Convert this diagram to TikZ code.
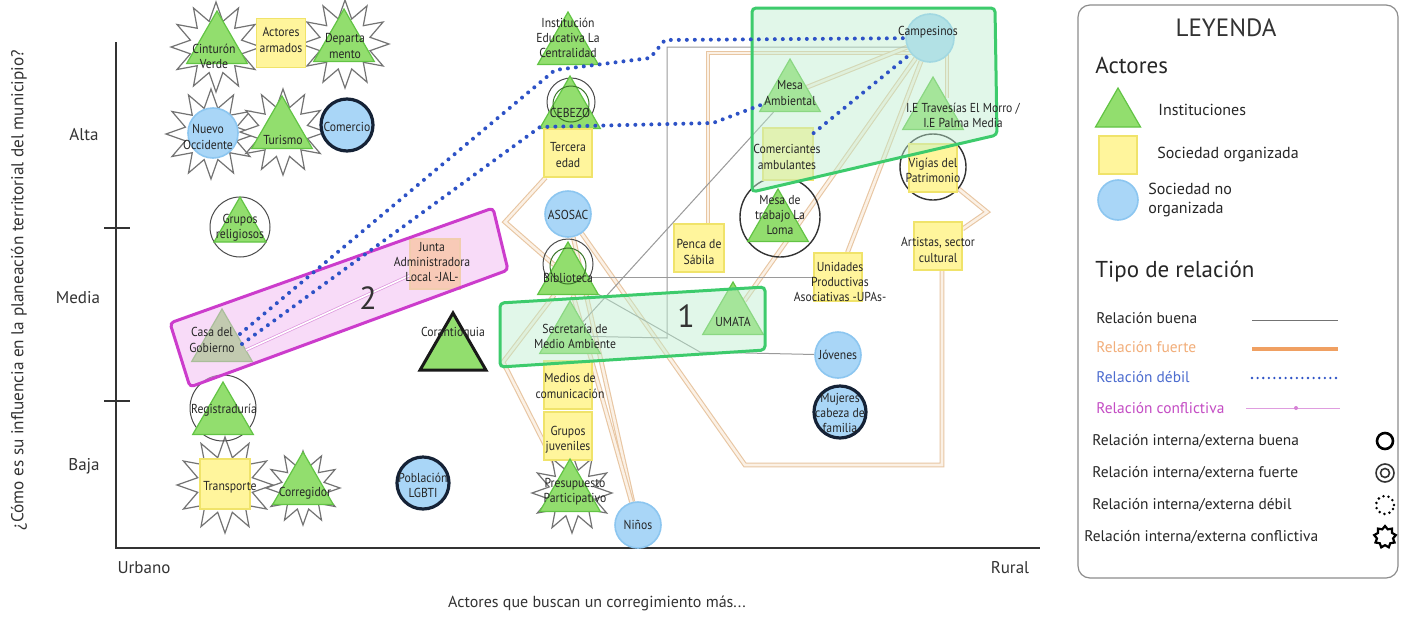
\documentclass[tikz,border=0pt]{standalone}
\usepackage{fontspec}
\setmainfont{PT Sans}
\newfontfamily\tagfont{PT Sans}[FakeStretch=0.9]
\usetikzlibrary{shapes.geometric,calc}

\definecolor{triF}{HTML}{92DE6E}
\definecolor{triD}{HTML}{62C444}
\definecolor{sqF}{HTML}{FFF59C}
\definecolor{sqD}{HTML}{F0E36A}
\definecolor{ciF}{HTML}{A9D6F7}
\definecolor{ciD}{HTML}{8CC6F0}
\definecolor{ringD}{HTML}{152236}
\definecolor{tanO}{HTML}{E8C6A2}
\definecolor{creamO}{HTML}{FBF1E6}
\definecolor{goodG}{HTML}{9A9A9A}
\definecolor{weakB}{HTML}{2D52C6}
\definecolor{confP}{HTML}{C44CC4}
\definecolor{boxG}{HTML}{3DCB6C}
\definecolor{boxGF}{HTML}{BDEFD0}
\definecolor{boxP}{HTML}{CC3CCC}
\definecolor{boxPF}{HTML}{F2B8F2}
\definecolor{strongO}{HTML}{F0A062}

\pgfdeclarelayer{bg}
\pgfdeclarelayer{stars}
\pgfdeclarelayer{edges}
\pgfdeclarelayer{over}
\pgfdeclarelayer{top}
\pgfsetlayers{bg,edges,stars,main,over,top}

\tikzset{
  inst/.style={regular polygon, regular polygon sides=3, minimum size=35pt, inner sep=0pt,
               fill=triF, draw=triD, line width=0.6pt},
  org/.style={rectangle, minimum size=24pt, inner sep=0pt, fill=sqF, draw=sqD, line width=0.6pt},
  noorg/.style={circle, minimum size=23pt, inner sep=0pt, fill=ciF, draw=ciD, line width=0.8pt},
  darkring/.style={draw=ringD, line width=1.6pt},
  spiky/.style={star, star points=12, star point ratio=1.7, minimum size=44pt, inner sep=0pt,
                draw=black!55, fill=white, line width=0.6pt},
  ring/.style={circle, inner sep=0pt, draw=black!70, line width=0.5pt},
  innerring/.style={circle, inner sep=0pt, draw=triD!60!black, line width=0.5pt},
  lbl/.style={align=center, inner sep=0pt, font=\tagfont\fontsize{6.5}{7.6}\selectfont, text=black!85},
  good/.style={draw=goodG, line width=0.5pt},
  strong/.style={draw=tanO, double=creamO, double distance=1.3pt, line width=0.55pt},
  weak/.style={draw=weakB, line width=2pt, line cap=round, dash pattern=on 0pt off 4pt},
  conflict/.style={draw=confP!60, double=white, double distance=0.8pt, line width=0.35pt},
  pinkbox/.style={draw=boxP, line width=1.5pt, fill=boxPF, fill opacity=0.5, rounded corners=2pt},
  greenbox/.style={draw=boxG, line width=1.5pt, fill=boxGF, fill opacity=0.45, rounded corners=2pt},
  axisline/.style={draw=black!80, line width=1.1pt},
  axislbl/.style={inner sep=0pt, font=\fontsize{8.5}{10}\selectfont, text=black!80},
  lgtext/.style={anchor=west, inner sep=0pt, font=\fontsize{8}{9.5}\selectfont, text=black!85},
  reltext/.style={anchor=west, inner sep=0pt, font=\fontsize{7.7}{9}\selectfont, text=black!85},
  lghead/.style={anchor=west, inner sep=0pt, font=\fontsize{11.5}{13}\selectfont, text=black!85},
  bignum/.style={inner sep=0pt, font=\fontsize{16}{18}\selectfont, text=black!80},
}

\begin{document}
\begin{tikzpicture}[x=0.5pt,y=-0.5pt]
\useasboundingbox (0,0) rectangle (1402,616);
\begin{pgfonlayer}{bg}
\fill[white] (0,0) rectangle (1402,616);
\end{pgfonlayer}

% ---------- axes ----------
\coordinate (ytop) at (116,42);
\coordinate (orig) at (116,548);
\coordinate (xend) at (1040,548);
\draw[axisline] (ytop) -- (orig) -- (xend);
\coordinate (tAa) at (104,228); \coordinate (tAb) at (130,228);
\coordinate (tBa) at (104,401); \coordinate (tBb) at (130,401);
\draw[axisline, line width=0.8pt] (tAa) -- (tAb);
\draw[axisline, line width=0.8pt] (tBa) -- (tBb);
\node[axislbl] (alta) at (84,135) {Alta};
\node[axislbl] (media) at (78,298) {Media};
\node[axislbl] (baja) at (84,466) {Baja};
\node[axislbl] (urb) at (144,568) {Urbano};
\node[axislbl] (rur) at (1010,568) {Rural};
\node[axislbl, font=\fontsize{8}{10}\selectfont] (xtitle) at (597,603) {Actores que buscan un corregimiento más...};
\node[axislbl, rotate=90, font=\fontsize{8.6}{10}\selectfont] (ytitle) at (19,290) {¿Cómo es su influencia en la planeación territorial del municipio?};

% ---------- conflict stars behind actors ----------
\begin{pgfonlayer}{stars}
\node[spiky, minimum size=45pt] (cvS) at (216,47) {};
\node[spiky, minimum size=44pt] (depS) at (345,44) {};
\node[spiky, minimum size=45pt] (nuoS) at (211,134) {};
\node[spiky, minimum size=43pt] (turS) at (283,132) {};
\node[spiky, minimum size=48pt] (traS) at (225,485) {};
\node[spiky, minimum size=37pt] (corS) at (303,488) {};
\node[spiky, minimum size=40pt] (preS) at (572,493) {};
\end{pgfonlayer}

% ---------- internal/external rings ----------
\node[ring, minimum size=30pt] (gruR) at (240,227) {};
\node[ring, minimum size=33pt] (regR) at (223,408) {};
\node[ring, minimum size=24pt] (cebR) at (571,102) {};
\node[ring, minimum size=25pt] (bibR) at (568,264) {};
\node[ring, minimum size=40pt, draw=black!80, line width=0.7pt] (mtlR) at (780,217) {};
\node[ring, minimum size=33pt, draw=black!80, line width=0.7pt] (vigR) at (933,167) {};

% ---------- actors ----------
\node[inst] (cv) at (217,46) {};
\node[org, minimum size=24.5pt] (arm) at (281,43) {};
\node[inst] (dep) at (344,44) {};
\node[noorg, minimum size=25pt] (nuo) at (213,133) {};
\node[inst] (tur) at (282,131) {};
\node[noorg, darkring, minimum size=26pt] (com) at (347,125) {};
\node[inst, minimum size=30pt] (gru) at (240,227) {};
\node[inst] (casa) at (222,344) {};
\node[inst] (reg) at (223,417) {};
\node[org, minimum size=25pt] (tra) at (225,484) {};
\node[inst] (corr) at (303,487) {};
\node[noorg, darkring, minimum size=26pt] (lgbt) at (423,483) {};
\node[inst, minimum size=38pt, draw=black!90, line width=1.5pt] (cora) at (453,351) {};
\node[org, minimum size=25pt, fill=sqF!80!orange] (jal) at (435,264) {};
\node[inst] (iec) at (568,47) {};
\node[inst] (ceb) at (570,111) {};
\node[org] (ter) at (568,153) {};
\node[noorg] (aso) at (568,214) {};
\node[inst] (bib) at (568,277) {};
\node[inst] (sec) at (570,336) {};
\node[org] (med) at (568,385) {};
\node[org] (juv) at (568,436) {};
\node[inst] (pre) at (570,494) {};
\node[noorg] (nin) at (638,525) {};
\node[org, minimum width=25pt] (pen) at (699,248) {};
\node[inst] (uma) at (733,317) {};
\node[inst] (amb) at (790,94) {};
\node[org, minimum width=25pt, minimum height=26pt] (cam) at (788,154) {};
\node[inst] (mtl) at (778,224) {};
\node[org] (upa) at (838,277) {};
\node[noorg] (jov) at (838,355) {};
\node[noorg, darkring, minimum size=26pt] (muj) at (840,412) {};
\node[noorg, minimum size=24pt] (camp) at (930,38) {};
\node[inst] (ie) at (933,112) {};
\node[org] (vig) at (933,168) {};
\node[org] (art) at (938,246) {};
\node[innerring, minimum size=18pt] (cebI) at (571,104) {};
\node[innerring, minimum size=18pt] (bibI) at (568,266) {};

% ---------- strong and good ties ----------
\begin{pgfonlayer}{edges}
\draw[strong] ($(pen.north)+(9,0)$) |- ($(camp)+(0,15)$);
\draw[strong] (amb) -- (camp);
\draw[strong] ($(camp)+(17,15)$) -- ($(ie.north)+(14,22)$);
\draw[strong] (camp) -- (uma);
\draw[strong] (camp) -- (upa);
\draw[strong] (vig) -- (987,212) -- (art);
\draw[strong] ($(art)+(4,0)$) -- (942,465) -- (745,465) -- (aso);
\draw[strong] (ter) -- (505,222) -- (bib);
\draw[strong] (bib) -- (503,362) -- (pre);
\draw[strong] (aso) -- (nin);
\draw[strong] (bib) -- (nin);
\draw[good] (sec) -- (667,338) -- (667,47) -- ($(camp)+(-10,9)$);
\draw[good] (bib) -- (upa);
\draw[good] (sec) -- (amb);
\draw[good] (bib) -- (700,352) -- (jov);
\end{pgfonlayer}

% ---------- grouping areas, weak and conflictive ties ----------
\begin{pgfonlayer}{over}
\draw[pinkbox] (170,323) -- (493,208) -- (508,270) -- (190,387) -- cycle;
\draw[greenbox] (500,303) -- (765,287) -- (765,350) -- (500,367) -- cycle;
\draw[greenbox] (752,8) -- (995,8) -- (997,135) -- (752,192) -- cycle;
\draw[weak] ($(casa)+(18,-10)$) -- (555,70) -- (650,58) -- (665,40) -- (camp);
\draw[weak] ($(casa)+(20,0)$) -- (540,127) -- (713,123) -- (amb);
\draw[weak] (cam) -- (camp);
\draw[conflict] ($(casa)+(24,6)$) -- (jal);
\end{pgfonlayer}

% ---------- actor names ----------
\begin{pgfonlayer}{top}
\node[lbl] (cvL) at (214,56) {Cinturón\\Verde};
\node[lbl] (armL) at (281,40) {Actores\\armados};
\node[lbl] (depL) at (345,46) {Departa\\mento};
\node[lbl] (nuoL) at (208,137) {Nuevo\\Occidente};
\node[lbl] (turL) at (283,140) {Turismo};
\node[lbl] (comL) at (347,127) {Comercio};
\node[lbl] (gruL) at (240,228) {Grupos\\religiosos};
\node[lbl] (casaL) at (212,340) {Casa del\\Gobierno};
\node[lbl] (jalL) at (432,262) {Junta\\Administradora\\Local -JAL-};
\node[lbl] (coraL) at (453,333) {Corantioquia};
\node[lbl] (regL) at (224,410) {Registraduría};
\node[lbl] (traL) at (230,487) {Transporte};
\node[lbl] (corrL) at (305,493) {Corregidor};
\node[lbl] (lgbtL) at (423,485) {Población\\LGBTI};
\node[lbl] (iecL) at (568,38) {Institución\\Educativa La\\Centralidad};
\node[lbl] (cebL) at (570,113) {CEBEZO};
\node[lbl] (terL) at (568,155) {Tercera\\edad};
\node[lbl] (asoL) at (568,215) {ASOSAC};
\node[lbl] (bibL) at (568,278) {Biblioteca};
\node[lbl] (secL) at (575,336) {Secretaría de\\Medio Ambiente};
\node[lbl] (medL) at (570,386) {Medios de\\comunicación};
\node[lbl] (juvL) at (568,440) {Grupos\\juveniles};
\node[lbl] (preL) at (575,492) {Presupuesto\\Participativo};
\node[lbl] (ninL) at (638,525) {Niños};
\node[lbl] (penL) at (699,252) {Penca de\\Sábila};
\node[lbl] (umaL) at (733,322) {UMATA};
\node[lbl] (ambL) at (790,93) {Mesa\\Ambiental};
\node[lbl] (camL) at (787,157) {Comerciantes\\ambulantes};
\node[lbl] (mtlL) at (780,215) {Mesa de\\trabajo La\\Loma};
\node[lbl] (upaL) at (840,282) {Unidades\\Productivas\\Asociativas -UPAs-};
\node[lbl] (jovL) at (838,355) {Jóvenes};
\node[lbl] (mujL) at (840,413) {Mujeres\\cabeza de\\familia};
\node[lbl] (campL) at (928,32) {Campesinos};
\node[lbl] (ieL) at (963,115) {I.E Travesías El Morro /\\I.E Palma Media};
\node[lbl] (vigL) at (933,170) {Vigías del\\Patrimonio};
\node[lbl] (artL) at (938,250) {Artistas, sector\\cultural};
\node[bignum] (numTwo) at (368,298) {2};
\node[bignum] (numOne) at (686,316) {1};
\end{pgfonlayer}

% ---------- legend ----------
\draw[black!45, line width=0.6pt, rounded corners=6pt] (1078,5) rectangle (1398,578);
\node[inner sep=0pt, font=\fontsize{12.5}{14}\selectfont, text=black!80] (legT) at (1226,28) {LEYENDA};
\node[lghead] (legA) at (1095,65) {Actores};
\node[inst, minimum size=26pt] (lgTri) at (1118,114) {};
\node[lgtext] (lgTriT) at (1158,110) {Instituciones};
\node[org, minimum size=19pt] (lgSq) at (1118,155) {};
\node[lgtext] (lgSqT) at (1157,154) {Sociedad organizada};
\node[noorg, minimum size=20pt] (lgCi) at (1118,200) {};
\node[lgtext, align=left] (lgCiT) at (1148,200) {Sociedad no\\organizada};
\node[lghead] (legR) at (1095,272) {Tipo de relación};

\node[reltext] (rGood) at (1096,318) {Relación buena};
\coordinate (gA) at (1252,320); \coordinate (gB) at (1338,320);
\draw[good, draw=black!55] (gA) -- (gB);
\node[reltext, text=strongO!85] (rStrong) at (1096,347) {Relación fuerte};
\coordinate (sA) at (1252,349); \coordinate (sB) at (1338,349);
\draw[draw=strongO, line width=2.4pt] (sA) -- (sB);
\node[reltext, text=weakB!85] (rWeak) at (1096,377) {Relación débil};
\coordinate (wA) at (1252,378); \coordinate (wB) at (1338,378);
\draw[weak, line width=1.3pt, dash pattern=on 0pt off 2.8pt] (wA) -- (wB);
\node[reltext, text=confP] (rConf) at (1096,408) {Relación conflictiva};
\coordinate (cA) at (1246,408); \coordinate (cB) at (1340,408);
\draw[draw=confP!55, line width=0.5pt] (cA) -- (cB);
\node[circle, fill=confP!70, inner sep=0pt, minimum size=2pt] (cDot) at (1296,408) {};

\node[reltext] (iGood) at (1092,441) {Relación interna/externa buena};
\node[circle, draw=black, line width=1.3pt, minimum size=8pt, inner sep=0pt] (iGoodI) at (1385,441) {};
\node[reltext] (iStrong) at (1092,473) {Relación interna/externa fuerte};
\node[circle, draw=black!80, line width=0.8pt, minimum size=9pt, inner sep=0pt] (iStrongI) at (1385,473) {};
\node[circle, draw=black!80, line width=0.8pt, minimum size=4.5pt, inner sep=0pt] (iStrongJ) at (1385,473) {};
\node[reltext] (iWeak) at (1092,505) {Relación interna/externa débil};
\node[circle, draw=black, line width=1.4pt, line cap=round, dash pattern=on 0pt off 2.6pt, minimum size=9pt, inner sep=0pt] (iWeakI) at (1385,505) {};
\node[reltext] (iConf) at (1084,537) {Relación interna/externa conflictiva};
\node[star, star points=9, star point ratio=1.35, draw=black, line width=1.1pt, fill=white, minimum size=11pt, inner sep=0pt] (iConfI) at (1385,537) {};
\end{tikzpicture}
\end{document}
